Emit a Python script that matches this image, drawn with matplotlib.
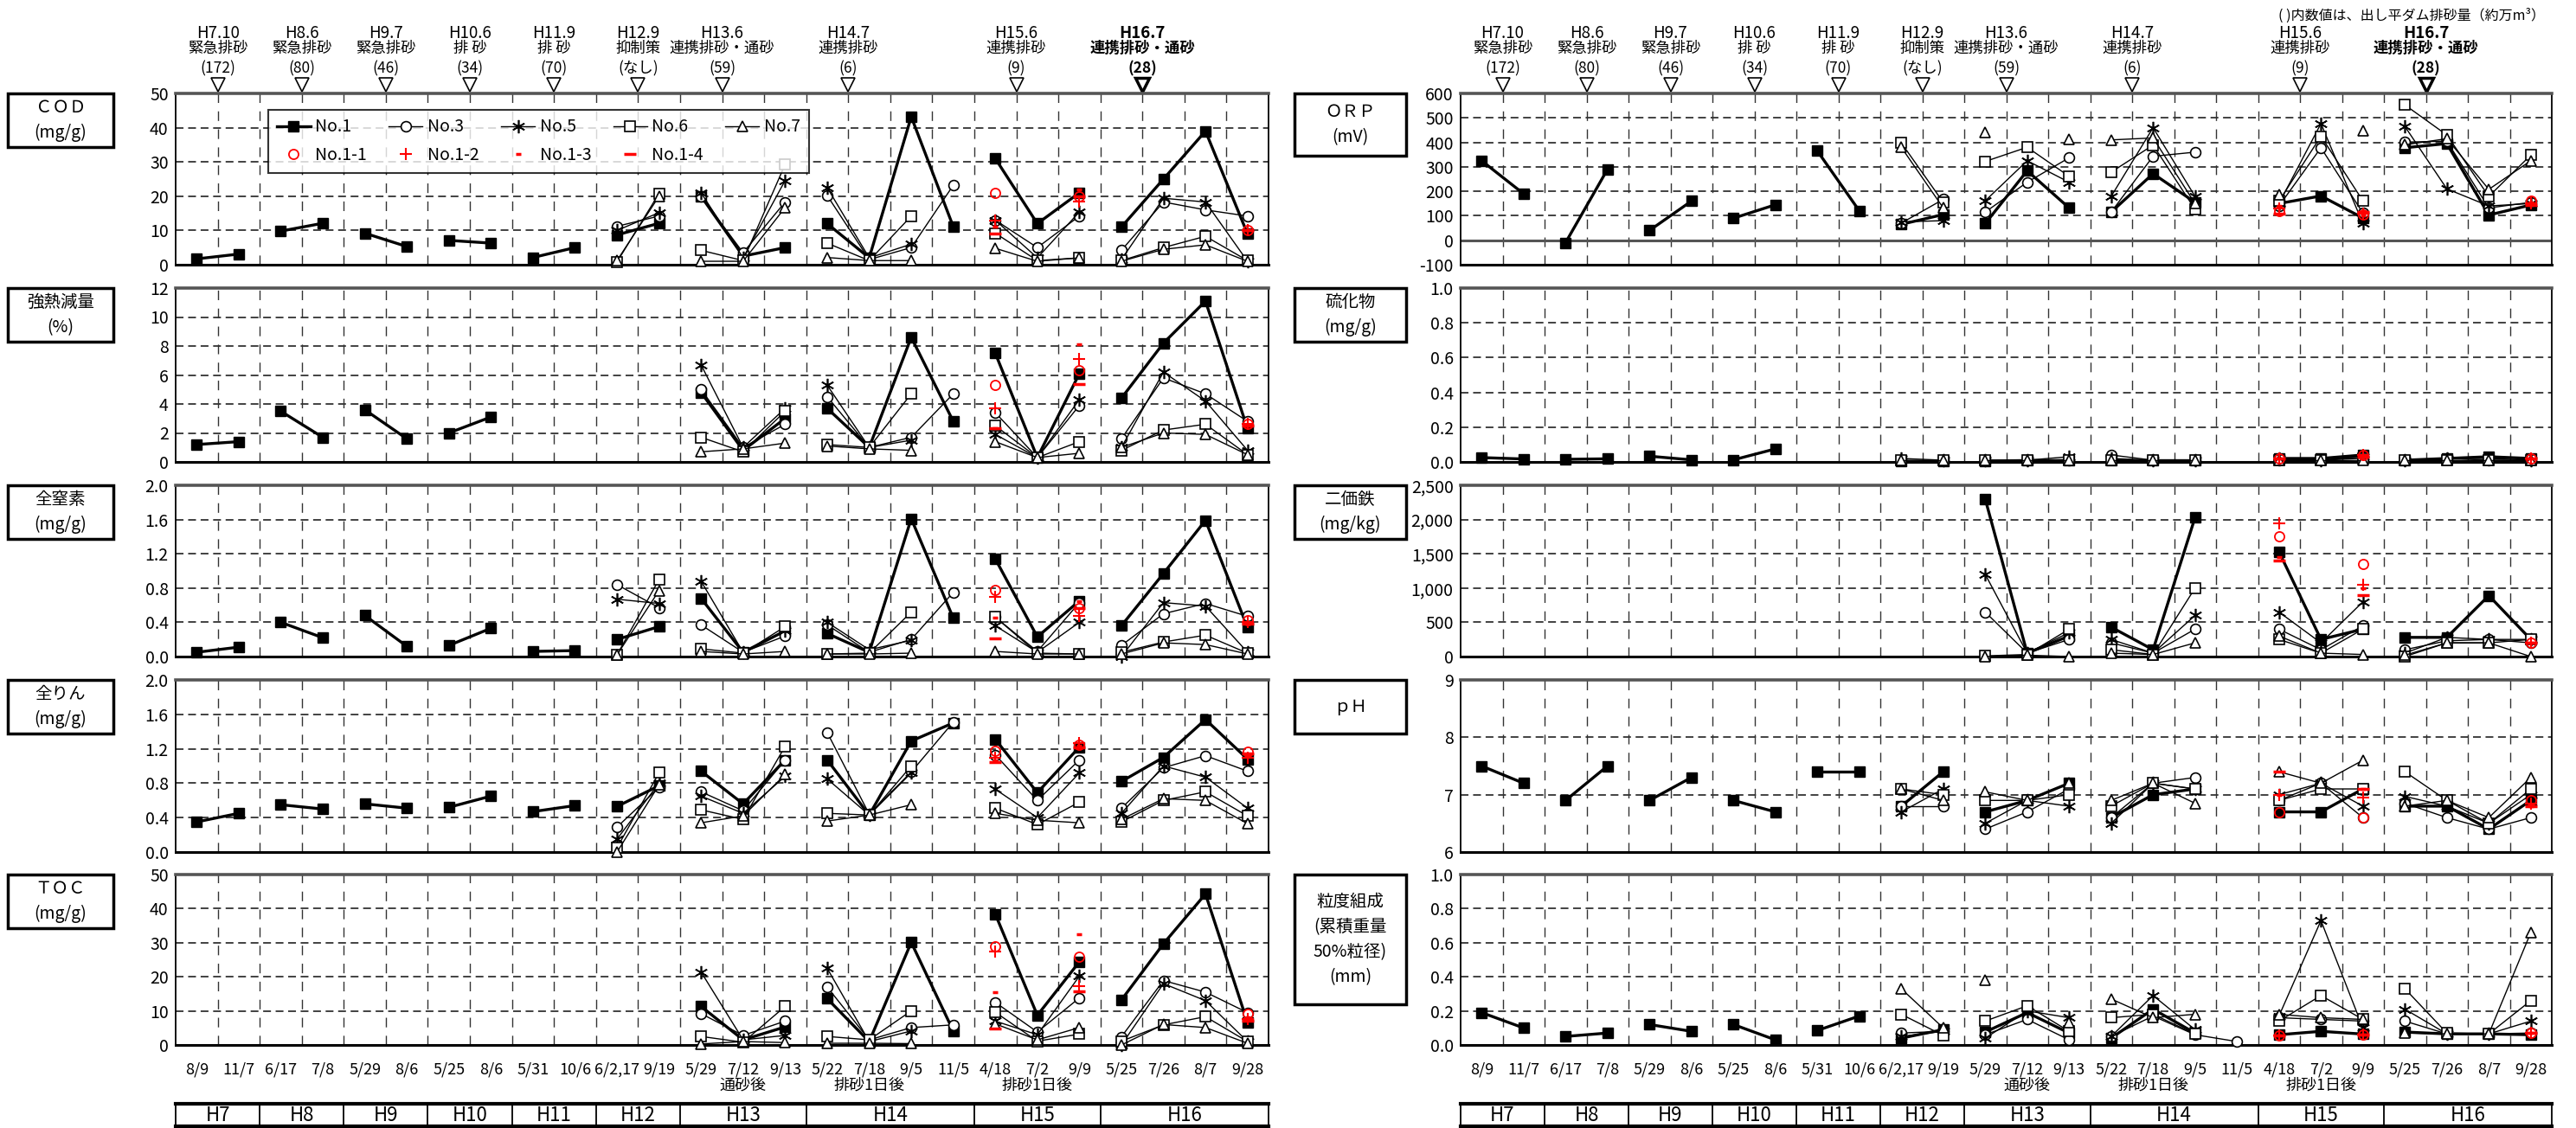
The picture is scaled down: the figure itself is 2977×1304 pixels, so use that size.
import numpy as np
import matplotlib.pyplot as plt
from matplotlib.patches import Rectangle
from matplotlib.transforms import blended_transform_factory

plt.rcParams['font.family'] = ['Liberation Sans Narrow', 'Noto Sans CJK JP', 'DejaVu Sans']

n = np.nan
W, H = 2977, 1304

dates = ['8/9', '11/7', '6/17', '7/8', '5/29', '8/6', '5/25', '8/6', '5/31', '10/6',
         '6/2,17', '9/19', '5/29', '7/12', '9/13', '5/22', '7/18', '9/5', '11/5',
         '4/18', '7/2', '9/9', '5/25', '7/26', '8/7', '9/28']
years = ['H7', 'H8', 'H9', 'H10', 'H11', 'H12', 'H13', 'H14', 'H15', 'H16']
year_span = [(0, 1), (2, 3), (4, 5), (6, 7), (8, 9), (10, 11), (12, 14), (15, 18), (19, 21), (22, 25)]
events = ['H7.10', 'H8.6', 'H9.7', 'H10.6', 'H11.9', 'H12.9', 'H13.6', 'H14.7', 'H15.6', 'H16.7']
event_kind = ['緊急排砂', '緊急排砂', '緊急排砂', '排 砂', '排 砂', '抑制策', '連携排砂・通砂', '連携排砂', '連携排砂', '連携排砂・通砂']
event_vol = ['(172)', '(80)', '(46)', '(34)', '(70)', '(なし)', '(59)', '(6)', '(9)', '(28)']
event_x = [0.5, 2.5, 4.5, 6.5, 8.5, 10.5, 12.5, 15.5, 19.5, 22.5]
notes = {13: '通砂後', 16: '排砂1日後', 20: '排砂1日後'}
red_x = [19, 21, 25]

# ---- COD (mg/g)
cod_1 = [1.7, 3.1, 9.8, 12.1, 9.2, 5.3, 7.1, 6.3, 2.1, 5.0, 8.7, 12.1, 20, 2.5, 5.0, 12, 2, 43.2, 11.1, 31, 12, 21, 11, 25, 39, 9]
cod_3 = [n]*10 + [11.2, 14.2, 20, 3.5, 18.3, 20.2, 1.5, 5, 23.2, 13, 5, 14.2, 4.2, 18.3, 16, 14.2]
cod_5 = [n]*10 + [10, 15.2, 21, 2, 24.6, 22.5, 2, 6, n, 13, 2, 15.4, 1.5, 19.4, 18.3, 1]
cod_6 = [n]*10 + [0.8, 20.8, 4.2, 1.2, 29.3, 6.3, 1.2, 14.2, n, 9.2, 1.2, 2, 1.2, 5, 8.3, 1.2]
cod_7 = [n]*10 + [1.2, 20, 1, 1, 16.7, 2.1, 1.2, 1.2, n, 4.8, 1, 2, 1, 4.5, 5.8, 1]
cod_r = [[21, 20, 10], [13, 18.5, 10], [11, 22, 10], [9, 20, 10]]

# ---- 強熱減量 (%)
ig_1 = [1.2, 1.4, 3.5, 1.7, 3.6, 1.6, 2.0, 3.1, n, n, n, n, 4.8, 0.8, 3.0, 3.7, 1.0, 8.6, 2.8, 7.5, 0.3, 6.1, 4.4, 8.2, 11.1, 2.3]
ig_3 = [n]*12 + [5.0, 1.0, 2.6, 4.5, 1.0, 1.7, 4.7, 3.4, 0.3, 3.9, 1.6, 5.8, 4.7, 2.8]
ig_5 = [n]*12 + [6.7, 1.0, 3.7, 5.3, 1.0, 1.5, n, 1.9, 0.3, 4.3, 1.0, 6.2, 4.2, 0.8]
ig_6 = [n]*12 + [1.7, 0.7, 3.5, 1.2, 1.0, 4.7, n, 2.5, 0.3, 1.4, 0.8, 2.2, 2.6, 0.5]
ig_7 = [n]*12 + [0.7, 0.9, 1.3, 1.1, 0.9, 0.8, n, 1.4, 0.3, 0.6, 1.0, 2.0, 1.9, 0.5]
ig_r = [[5.3, 6.3, 2.6], [3.7, 7.1, 2.6], [2.3, 8.1, 2.5], [2.3, 5.4, 2.5]]

# ---- 全窒素 (mg/g)
tn_1 = [0.05, 0.11, 0.40, 0.22, 0.48, 0.12, 0.13, 0.33, 0.06, 0.07, 0.20, 0.35, 0.68, 0.05, 0.30, 0.27, 0.05, 1.61, 0.45, 1.14, 0.23, 0.65, 0.36, 0.97, 1.59, 0.34]
tn_3 = [n]*10 + [0.84, 0.57, 0.37, 0.05, 0.24, 0.37, 0.05, 0.20, 0.75, 0.46, 0.06, 0.63, 0.13, 0.50, 0.62, 0.47]
tn_5 = [n]*10 + [0.67, 0.62, 0.88, 0.05, 0.30, 0.40, 0.08, 0.19, n, 0.36, 0.05, 0.40, 0.0, 0.63, 0.59, 0.05]
tn_6 = [n]*10 + [0.02, 0.90, 0.09, 0.04, 0.35, 0.03, 0.04, 0.52, n, 0.46, 0.04, 0.03, 0.05, 0.17, 0.25, 0.04]
tn_7 = [n]*10 + [0.02, 0.77, 0.06, 0.03, 0.06, 0.03, 0.03, 0.04, n, 0.06, 0.03, 0.03, 0.03, 0.16, 0.14, 0.03]
tn_r = [[0.78, 0.57, 0.42], [0.70, 0.47, 0.40], [0.45, 0.65, 0.38], [0.21, 0.57, 0.38]]

# ---- 全りん (mg/g)
tp_1 = [0.35, 0.45, 0.55, 0.50, 0.56, 0.51, 0.52, 0.65, 0.47, 0.54, 0.53, 0.77, 0.94, 0.56, 1.07, 1.07, 0.43, 1.29, 1.50, 1.31, 0.69, 1.22, 0.82, 1.10, 1.54, 1.08]
tp_3 = [n]*10 + [0.29, 0.75, 0.70, 0.48, 1.07, 1.39, 0.44, 0.93, 1.51, 1.13, 0.60, 1.07, 0.51, 0.98, 1.12, 0.94]
tp_5 = [n]*10 + [0.15, 0.80, 0.65, 0.45, 0.88, 0.85, 0.43, 0.92, n, 0.73, 0.40, 0.92, 0.45, 1.00, 0.87, 0.51]
tp_6 = [n]*10 + [0.05, 0.92, 0.49, 0.38, 1.23, 0.45, 0.43, 1.00, n, 0.51, 0.32, 0.58, 0.35, 0.60, 0.70, 0.42]
tp_7 = [n]*10 + [0.0, 0.78, 0.34, 0.42, 0.90, 0.36, 0.43, 0.55, n, 0.45, 0.37, 0.34, 0.38, 0.62, 0.60, 0.33]
tp_r = [[1.18, 1.25, 1.17], [1.10, 1.27, 1.10], [1.07, 1.24, 1.13], [1.05, 1.22, 1.15]]

# ---- TOC (mg/g)
toc_1 = [n]*12 + [11.3, 1.5, 5.3, 13.6, 1.0, 30.1, 4.1, 38.4, 8.7, 24.4, 13.2, 29.7, 44.3, 6.6]
toc_3 = [n]*12 + [9.2, 2.8, 7.0, 17.0, 1.5, 5.1, 5.9, 12.5, 3.8, 13.8, 2.4, 18.9, 15.5, 9.5]
toc_5 = [n]*12 + [21.4, 1.5, 2.8, 22.5, 1.0, 4.1, n, 7.0, 3.0, 20.2, 0.0, 18.0, 13.0, 1.0]
toc_6 = [n]*12 + [2.5, 0.8, 11.3, 2.5, 1.5, 10.0, n, 9.6, 1.1, 3.2, 1.1, 5.9, 8.3, 1.0]
toc_7 = [n]*12 + [0.3, 1.0, 0.7, 0.5, 0.5, 0.4, n, 6.2, 1.5, 5.1, 0.0, 6.0, 5.1, 0.5]
toc_r = [[29, 25.8, 9.2], [27.4, 17.2, 7.5], [15.5, 32.5, 8.0], [4.9, 15.7, 7.0]]

# ---- ORP (mV)
orp_1 = [325, 190, -10, 290, 40, 160, 90, 145, 365, 120, 65, 105, 68, 284, 132, 115, 272, 155, n, 150, 181, 91, 378, 395, 103, 144]
orp_3 = [n]*10 + [70, 167, 115, 237, 337, 115, 343, 360, n, 140, 378, 111, 401, 405, 132, 155]
orp_5 = [n]*10 + [75, 80, 161, 325, 237, 179, 460, 179, n, 150, 477, 68, 465, 210, 140, 150]
orp_6 = [n]*10 + [398, 155, 322, 380, 261, 278, 389, 126, n, 160, 425, 161, 553, 430, 179, 348]
orp_7 = [n]*10 + [380, 132, 442, n, 413, 410, 418, 150, n, 187, n, 448, 390, 415, 208, 325]
orp_r = [[120, 105, 160], [130, 110, 150], [140, 100, 155], [110, 115, 145]]

# ---- 硫化物 (mg/g)
s_1 = [0.025, 0.017, 0.015, 0.018, 0.033, 0.012, 0.012, 0.075, n, n, 0.005, 0.005, 0.005, 0.008, 0.008, 0.01, 0.01, 0.01, n, 0.02, 0.02, 0.04, 0.01, 0.02, 0.03, 0.02]
s_3 = [n]*10 + [0.01, 0.01, 0.01, 0.01, 0.01, 0.04, 0.01, 0.01, n, 0.01, 0.01, 0.03, 0.01, 0.02, 0.01, 0.01]
s_5 = [n]*10 + [0.02, 0.01, 0.01, 0.01, 0.03, 0.02, 0.01, 0.01, n, 0.02, 0.01, 0.03, 0.01, 0.02, 0.02, 0.01]
s_6 = [n]*10 + [0.01, 0.01, 0.01, 0.01, 0.01, 0.01, 0.01, 0.01, n, 0.01, 0.01, 0.02, 0.01, 0.01, 0.01, 0.01]
s_7 = [n]*10 + [0.01, 0.01, 0.01, 0.01, 0.01, 0.01, 0.01, 0.01, n, 0.01, 0.01, 0.01, 0.01, 0.01, 0.01, 0.01]
s_r = [[0.02, 0.04, 0.02], [0.02, 0.04, 0.02], [0.02, 0.03, 0.02], [0.02, 0.03, 0.02]]

# ---- 二価鉄 (mg/kg)
fe_1 = [n]*12 + [2300, 50, 300, 430, 100, 2030, n, 1530, 250, 400, 280, 280, 890, 250]
fe_3 = [n]*12 + [650, 50, 250, 200, 50, 400, n, 400, 100, 450, 100, 230, 250, 200]
fe_5 = [n]*12 + [1200, 50, 350, 250, 50, 600, n, 650, 200, 800, 50, 280, 250, 250]
fe_6 = [n]*12 + [10, 30, 400, 100, 30, 1000, n, 250, 50, 400, 0, 200, 200, 250]
fe_7 = [n]*12 + [0, 20, 0, 50, 30, 200, n, 300, 50, 30, 20, 200, 200, 0]
fe_r = [[1750, 1350, 200], [1950, 1050, 200], [1450, 1000, 200], [1400, 900, 200]]

# ---- pH
ph_1 = [7.5, 7.2, 6.9, 7.5, 6.9, 7.3, 6.9, 6.7, 7.4, 7.4, 6.8, 7.4, 6.7, 6.9, 7.2, 6.6, 7.0, 7.1, n, 6.7, 6.7, 7.1, 6.8, 6.8, 6.4, 6.9]
ph_3 = [n]*10 + [6.8, 6.8, 6.4, 6.7, 7.1, 6.6, 7.2, 7.3, n, 6.9, 7.2, 6.6, 6.85, 6.6, 6.4, 6.6]
ph_5 = [n]*10 + [6.7, 7.1, 6.5, 6.9, 6.8, 6.5, 7.2, 7.1, n, 7.0, 7.2, 6.8, 6.97, 6.8, 6.5, 7.0]
ph_6 = [n]*10 + [7.1, 7.0, 6.9, 6.9, 7.0, 6.8, 7.2, 7.1, n, 6.9, 7.1, 7.1, 7.4, 6.9, 6.5, 7.1]
ph_7 = [n]*10 + [7.1, 6.9, 7.05, 6.9, 7.2, 6.9, 7.2, 6.85, n, 7.4, 7.2, 7.6, 6.8, 6.9, 6.6, 7.3]
ph_r = [[6.7, 6.6, 6.9], [7.0, 6.95, 6.85], [7.0, 7.1, 6.8], [7.4, 7.1, 6.8]]

# ---- 粒度組成 (mm)
gs_1 = [0.19, 0.10, 0.05, 0.07, 0.12, 0.08, 0.12, 0.03, 0.085, 0.17, 0.04, 0.09, 0.076, 0.19, 0.07, 0.04, 0.21, 0.07, n, 0.06, 0.08, 0.064, 0.076, 0.065, 0.065, 0.06]
gs_3 = [n]*10 + [0.07, 0.08, 0.06, 0.15, 0.03, 0.05, 0.17, 0.06, 0.02, 0.16, 0.15, 0.14, 0.14, 0.065, 0.065, 0.07]
gs_5 = [n]*10 + [0.05, 0.08, 0.04, 0.20, 0.16, 0.05, 0.29, 0.09, n, 0.17, 0.73, 0.10, 0.21, 0.065, 0.065, 0.14]
gs_6 = [n]*10 + [0.18, 0.056, 0.14, 0.23, 0.08, 0.16, 0.18, 0.064, n, 0.14, 0.29, 0.15, 0.33, 0.07, 0.065, 0.26]
gs_7 = [n]*10 + [0.33, 0.10, 0.38, n, 0.13, 0.27, 0.16, 0.18, n, 0.18, 0.16, 0.15, 0.07, 0.065, 0.065, 0.66]
gs_r = [[0.056, 0.06, 0.07], [0.056, 0.06, 0.07], [0.056, 0.06, 0.07], [0.056, 0.06, 0.07]]

names = ['No.1', 'No.3', 'No.5', 'No.6', 'No.7']
red_names = ['No.1-1', 'No.1-2', 'No.1-3', 'No.1-4']

styles = [
    dict(marker='s', ms=9, mfc='black', mec='black', color='black', lw=2.4),
    dict(marker='o', ms=8.5, mfc='white', mec='black', color='black', lw=1.0, mew=1.2),
    dict(marker=(6, 2, 0), ms=11, mec='black', color='black', lw=1.0, mew=1.2),
    dict(marker='s', ms=9, mfc='white', mec='black', color='black', lw=1.0, mew=1.2),
    dict(marker='^', ms=9, mfc='white', mec='black', color='black', lw=1.0, mew=1.2),
]
red_styles = [
    dict(marker='o', ms=8, mfc='none', mec='red', mew=1.3, ls='none'),
    dict(marker='+', ms=10, mec='red', mew=1.5, ls='none'),
    dict(marker='_', ms=5, mec='red', mew=2.5, ls='none'),
    dict(marker='_', ms=10, mec='red', mew=2.5, ls='none'),
]
groups = [(0, 2), (2, 4), (4, 6), (6, 8), (8, 10), (10, 12), (12, 15), (15, 19), (19, 22), (22, 26)]
xs = np.arange(26)

fig = plt.figure(figsize=(W / 100, H / 100), dpi=100)


def px_axes(x0, y0, x1, y1):
    return fig.add_axes([x0 / W, 1 - y1 / H, (x1 - x0) / W, (y1 - y0) / H])


def draw_panel(ax, series, red, ylim, yticks, ylabels):
    ax.set_xlim(-0.5, 25.5)
    ax.set_ylim(*ylim)
    for yv in yticks[1:-1]:
        ax.axhline(yv, color='#333333', lw=1.3, ls=(0, (5, 3)), zorder=0)
    for k in range(25):
        ax.axvline(k + 0.5, color='#333333', lw=1.0, ls=(0, (8, 7)), zorder=0)
    for vals, st in zip(series, styles):
        v = np.array(vals, float)
        for a, b in groups:
            ax.plot(xs[a:b], v[a:b], clip_on=False, zorder=3, **st)
    for vals, st in zip(red, red_styles):
        ax.plot(red_x, vals, clip_on=False, zorder=4, **st)
    ax.set_yticks(yticks)
    ax.set_yticklabels(ylabels, fontsize=14)
    ax.tick_params(axis='y', length=0, pad=6)
    ax.set_xticks([])
    for s in ['left', 'right']:
        ax.spines[s].set_linewidth(1.3)
    ax.spines['bottom'].set_linewidth(2.2)
    ax.spines['top'].set_linewidth(2.6)
    ax.spines['top'].set_color('#555555')


def header(ax):
    tr = blended_transform_factory(ax.transData, ax.transAxes)
    for i, x in enumerate(event_x):
        bold = 'bold' if i == len(event_x) - 1 else 'normal'
        ax.text(x, 1.35, events[i], transform=tr, ha='center', va='center', fontsize=13.5, fontweight=bold)
        ax.text(x, 1.265, event_kind[i], transform=tr, ha='center', va='center', fontsize=12.5, fontweight=bold)
        ax.text(x, 1.146, event_vol[i], transform=tr, ha='center', va='center', fontsize=12.5, fontweight=bold)
        ax.plot([x], [1.05], transform=tr, marker='v', ms=11, mfc='white', mec='black',
                mew=2.5 if bold == 'bold' else 1.2, clip_on=False)


def label_box(x0, y0, x1, y1, text):
    fig.add_artist(Rectangle((x0 / W, 1 - y1 / H), (x1 - x0) / W, (y1 - y0) / H,
                             transform=fig.transFigure, fill=False, ec='black', lw=2.5))
    fig.text((x0 + x1) / 2 / W, 1 - (y0 + y1) / 2 / H, text, ha='center', va='center',
             fontsize=14, linespacing=1.5)


def bottom_axis(ax):
    ax.set_xticks(xs)
    ax.set_xticklabels(dates, fontsize=13)
    ax.tick_params(axis='x', length=0, pad=14)
    tr = blended_transform_factory(ax.transData, ax.transAxes)
    for k, t in notes.items():
        ax.text(k, -0.235, t, transform=tr, ha='center', va='center', fontsize=13)


def year_table(x0, x1):
    ax = px_axes(x0, 1276, x1, 1302)
    ax.set_xlim(-0.5, 25.5)
    ax.set_ylim(0, 1)
    ax.set_xticks([])
    ax.set_yticks([])
    for (a, b), y in zip(year_span, years):
        ax.text((a + b) / 2, 0.47, y, ha='center', va='center', fontsize=16)
        if b < 25:
            ax.axvline(b + 0.5, color='black', lw=1.3)
    ax.spines['top'].set_linewidth(3)
    ax.spines['bottom'].set_linewidth(3)
    ax.spines['left'].set_linewidth(1.3)
    ax.spines['right'].set_linewidth(1.3)


tops = [108, 333, 561, 786, 1011]
bots = [306, 534, 759, 985, 1208]
LX0, LX1 = 203, 1466
RX0, RX1 = 1688, 2949

def ticks(a, b, step, fmt):
    v = np.arange(a, b + step / 2, step)
    return list(v), [fmt(t) for t in v]

left_specs = [
    ([cod_1, cod_3, cod_5, cod_6, cod_7], cod_r, (0, 50), ticks(0, 50, 10, lambda t: f'{t:.0f}'), 'ＣＯＤ\n(mg/g)'),
    ([ig_1, ig_3, ig_5, ig_6, ig_7], ig_r, (0, 12), ticks(0, 12, 2, lambda t: f'{t:.0f}'), '強熱減量\n(%)'),
    ([tn_1, tn_3, tn_5, tn_6, tn_7], tn_r, (0, 2.0), ticks(0, 2.0, 0.4, lambda t: f'{t:.1f}'), '全窒素\n(mg/g)'),
    ([tp_1, tp_3, tp_5, tp_6, tp_7], tp_r, (0, 2.0), ticks(0, 2.0, 0.4, lambda t: f'{t:.1f}'), '全りん\n(mg/g)'),
    ([toc_1, toc_3, toc_5, toc_6, toc_7], toc_r, (0, 50), ticks(0, 50, 10, lambda t: f'{t:.0f}'), 'ＴＯＣ\n(mg/g)'),
]
right_specs = [
    ([orp_1, orp_3, orp_5, orp_6, orp_7], orp_r, (-100, 600), ticks(-100, 600, 100, lambda t: f'{t:.0f}'), 'ＯＲＰ\n(mV)'),
    ([s_1, s_3, s_5, s_6, s_7], s_r, (0, 1.0), ticks(0, 1.0, 0.2, lambda t: f'{t:.1f}'), '硫化物\n(mg/g)'),
    ([fe_1, fe_3, fe_5, fe_6, fe_7], fe_r, (0, 2500), ticks(0, 2500, 500, lambda t: f'{t:,.0f}'), '二価鉄\n(mg/kg)'),
    ([ph_1, ph_3, ph_5, ph_6, ph_7], ph_r, (6, 9), ticks(6, 9, 1, lambda t: f'{t:.0f}'), 'ｐＨ'),
    ([gs_1, gs_3, gs_5, gs_6, gs_7], gs_r, (0, 1.0), ticks(0, 1.0, 0.2, lambda t: f'{t:.1f}'), '粒度組成\n(累積重量\n50%粒径)\n(mm)'),
]

left_axes, right_axes = [], []
for i, (ser, red, yl, (tv, tl), lab) in enumerate(left_specs):
    ax = px_axes(LX0, tops[i], LX1, bots[i])
    draw_panel(ax, ser, red, yl, tv, tl)
    label_box(9, tops[i], 131, tops[i] + 62, lab)
    left_axes.append(ax)

right_box_h = [72, 62, 62, 62, 150]
for i, (ser, red, yl, (tv, tl), lab) in enumerate(right_specs):
    ax = px_axes(RX0, tops[i], RX1, bots[i])
    draw_panel(ax, ser, red, yl, tv, tl)
    label_box(1496, tops[i], 1625, tops[i] + right_box_h[i], lab)
    right_axes.append(ax)

right_axes[0].axhline(0, color='#555555', lw=2.2, zorder=1)

header(left_axes[0])
header(right_axes[0])
bottom_axis(left_axes[-1])
bottom_axis(right_axes[-1])
year_table(LX0, LX1)
year_table(RX0, RX1)

# legend
handles = []
for nm, st in zip(names, styles):
    handles.append(plt.Line2D([], [], label=nm, **st))
red_h = [plt.Line2D([], [], label=nm, **st) for nm, st in zip(red_names, red_styles)]
order = [handles[0], red_h[0], handles[1], red_h[1], handles[2], red_h[2], handles[3], red_h[3], handles[4]]
leg = left_axes[0].legend(handles=order, ncol=5, loc='upper left', bbox_to_anchor=(0.077, 0.955, 0.51, 0.0),
                          mode='expand', frameon=True, fancybox=False, edgecolor='black', fontsize=14,
                          handlelength=2.0, handletextpad=0.3, columnspacing=0.8, borderpad=0.5,
                          labelspacing=0.6)
leg.get_frame().set_linewidth(1.5)
leg.set_zorder(10)

fig.text(2941 / W, 1 - 18 / H, '( )内数値は、出し平ダム排砂量（約万m³）', ha='right', va='center', fontsize=11.5)

fig.savefig('out.png', dpi=100)
